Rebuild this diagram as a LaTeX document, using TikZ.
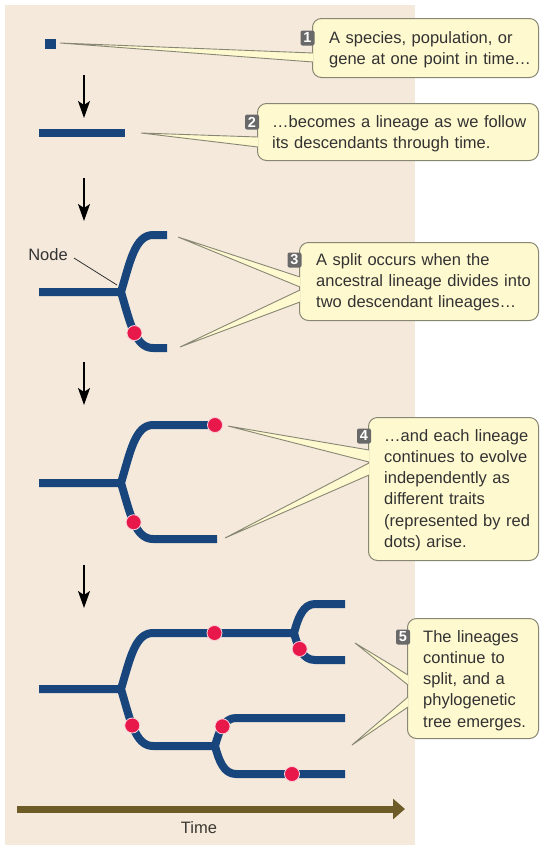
\documentclass[tikz,border=0pt]{standalone}
\usepackage{fontspec}
\setmainfont{Liberation Sans}
\usetikzlibrary{arrows.meta,calc}
\definecolor{treeblue}{RGB}{24,70,124}
\definecolor{dotred}{RGB}{232,24,74}
\definecolor{panelbg}{RGB}{245,233,220}
\definecolor{callfill}{RGB}{255,249,208}
\definecolor{callline}{RGB}{135,135,115}
\definecolor{badgegray}{RGB}{105,105,105}
\definecolor{txt}{RGB}{50,50,50}
\definecolor{timecol}{RGB}{110,92,40}
\newcommand\calloutfont{\fontsize{16.5}{21.3}\selectfont}
\newcommand\badgefont{\fontsize{14.5}{14.5}\selectfont\bfseries}
\newcommand\callptr[3]{\fill[callfill] #1 -- #2 -- #3 -- cycle; \draw[pointerline] #1 -- #2 -- #3;}
\begin{document}
\begin{tikzpicture}[x=1pt,y=-1pt,
  lineage/.style={draw=treeblue, line width=8pt, line cap=butt, line join=round},
  trait/.style={circle, fill=dotred, draw=white!80!dotred, line width=0.8pt, minimum size=15pt, inner sep=0pt},
  stagearrow/.style={draw=black, line width=1.5pt, -{Stealth[length=17pt,width=12pt,inset=4pt]}},
  callbox/.style={draw=callline, fill=callfill, line width=1pt, rounded corners=9pt, anchor=north west, inner sep=0pt},
  calltext/.style={anchor=base west, inner sep=0pt, text width=320pt, align=left, font=\calloutfont, text=txt},
  badge/.style={fill=badgegray, rounded corners=2pt, minimum width=14pt, minimum height=15pt, inner sep=0pt, text=white, font=\badgefont},
  pointerline/.style={draw=callline, line width=0.9pt, line join=miter},
  junction/.style={fill=treeblue}]
\useasboundingbox (0,0) rectangle (540,847);
\fill[white] (0,0) rectangle (540,847);
\fill[panelbg] (5,5) rectangle (415,845);

% ---------- stage arrows ----------
\coordinate (a1s) at (84,75);  \coordinate (a1e) at (84,118);
\coordinate (a2s) at (84,178); \coordinate (a2e) at (84,221);
\coordinate (a3s) at (84,362); \coordinate (a3e) at (84,405);
\coordinate (a4s) at (84,565); \coordinate (a4e) at (84,608);
\draw[stagearrow] (a1s) -- (a1e);
\draw[stagearrow] (a2s) -- (a2e);
\draw[stagearrow] (a3s) -- (a3e);
\draw[stagearrow] (a4s) -- (a4e);

% ---------- stage 1 and 2 ----------
\node[fill=treeblue, minimum width=11pt, minimum height=10pt, inner sep=0pt] (sq) at (50.5,44) {};
\coordinate (bar1) at (39,133); \coordinate (bar2) at (125,133);
\draw[lineage] (bar1) -- (bar2);

% ---------- stage 3 ----------
\coordinate (r3) at (39,292); \coordinate (n3) at (121,292);
\coordinate (u3) at (153,235); \coordinate (ue3) at (167,235);
\coordinate (l3) at (153,348); \coordinate (le3) at (167,348);
\draw[lineage] (r3) -- (n3) .. controls +(9,-30) and +(-18,0) .. (u3) -- (ue3);
\draw[lineage] (n3) .. controls +(9,30) and +(-18,0) .. (l3) -- (le3);
\fill[junction] (n3) circle[radius=4pt];
\path (n3) .. controls +(9,30) and +(-18,0) .. (l3) node[trait, pos=0.53] (d31) {};
\node[font=\calloutfont, text=txt, inner sep=0pt] (nodelbl) at (48,255) {Node};
\coordinate (nodeptr) at (117,285);
\draw[txt, line width=0.8pt] ($(nodelbl.east)+(6,3)$) -- (nodeptr);

% ---------- stage 4 ----------
\coordinate (r4) at (39,483); \coordinate (n4) at (121,483);
\coordinate (u4) at (153,425); \coordinate (ue4) at (215,425);
\coordinate (l4) at (153,539); \coordinate (le4) at (217,539);
\draw[lineage] (r4) -- (n4) .. controls +(9,-30) and +(-18,0) .. (u4) -- (ue4);
\draw[lineage] (n4) .. controls +(9,30) and +(-18,0) .. (l4) -- (le4);
\fill[junction] (n4) circle[radius=4pt];
\node[trait] (d41) at (ue4) {};
\path (n4) .. controls +(9,30) and +(-18,0) .. (l4) node[trait, pos=0.5] (d42) {};

% ---------- stage 5 ----------
\coordinate (r5) at (39,689); \coordinate (n5) at (121,689);
\coordinate (u5) at (153,633); \coordinate (s5a) at (294,633);
\coordinate (l5) at (153,746); \coordinate (s5b) at (215,746);
\coordinate (ua) at (315,604); \coordinate (uae) at (345,604);
\coordinate (la) at (315,660); \coordinate (lae) at (345,660);
\coordinate (ub) at (236,718); \coordinate (ube) at (345,718);
\coordinate (lb) at (236,774); \coordinate (lbe) at (345,774);
\draw[lineage] (r5) -- (n5) .. controls +(9,-30) and +(-18,0) .. (u5) -- (s5a)
   .. controls +(4,-15) and +(-12,0) .. (ua) -- (uae);
\draw[lineage] (s5a) .. controls +(4,15) and +(-12,0) .. (la) -- (lae);
\draw[lineage] (n5) .. controls +(9,30) and +(-18,0) .. (l5) -- (s5b)
   .. controls +(4,15) and +(-12,0) .. (lb) -- (lbe);
\draw[lineage] (s5b) .. controls +(4,-15) and +(-12,0) .. (ub) -- (ube);
\fill[junction] (n5) circle[radius=4pt];
\fill[junction] (s5a) circle[radius=4pt];
\fill[junction] (s5b) circle[radius=4pt];
\node[trait] (d51) at (214.5,633) {};
\path (s5a) .. controls +(4,15) and +(-12,0) .. (la) node[trait, pos=0.4] (d52) {};
\path (n5) .. controls +(9,30) and +(-18,0) .. (l5) node[trait, pos=0.45] (d53) {};
\path (s5b) .. controls +(4,-15) and +(-12,0) .. (ub) node[trait, pos=0.5] (d54) {};
\node[trait] (d55) at (292,774) {};

% ---------- callouts ----------
\node[callbox, minimum width=226pt, minimum height=59pt] (c1) at (312,18) {};
\node[callbox, minimum width=281pt, minimum height=57pt] (c2) at (257,103) {};
\node[callbox, minimum width=239pt, minimum height=78pt] (c3) at (299,242) {};
\node[callbox, minimum width=170pt, minimum height=143pt] (c4) at (368,417) {};
\node[callbox, minimum width=131pt, minimum height=120pt] (c5) at (407,618) {};

\coordinate (tip1) at (60,43);
\coordinate (tip2) at (141,133);
\coordinate (tip3a) at (178,237); \coordinate (tip3b) at (180,347);
\coordinate (tip4a) at (228,426); \coordinate (tip4b) at (225,538);
\coordinate (tip5a) at (355,643); \coordinate (tip5b) at (352,745);

\callptr{($(c1.north west)+(1,35)$)}{(tip1)}{($(c1.north west)+(1,44)$)}
\callptr{($(c2.north west)+(1,34)$)}{(tip2)}{($(c2.north west)+(1,44)$)}
\callptr{($(c3.north west)+(1,35)$)}{(tip3a)}{($(c3.north west)+(1,45)$)}
\callptr{($(c3.north west)+(1,48)$)}{(tip3b)}{($(c3.north west)+(1,60)$)}
\callptr{($(c4.north west)+(1,33)$)}{(tip4a)}{($(c4.north west)+(1,45)$)}
\callptr{($(c4.north west)+(1,46)$)}{(tip4b)}{($(c4.north west)+(1,58)$)}
\callptr{($(c5.north west)+(1,57)$)}{(tip5a)}{($(c5.north west)+(1,67)$)}
\callptr{($(c5.north west)+(1,79)$)}{(tip5b)}{($(c5.north west)+(1,89)$)}

\node[badge] (b1) at (307.5,38) {1};
\node[badge] (b2) at (252,122) {2};
\node[badge] (b3) at (294.5,260) {3};
\node[badge] (b4) at (364,436) {4};
\node[badge] (b5) at (403,637) {5};

\node[calltext] (t1) at (329,43) {A species, population, or\\gene at one point in time…};
\node[calltext] (t2) at (272,127) {…becomes a lineage as we follow\\its descendants through time.};
\node[calltext] (t3) at (316,265) {A split occurs when the\\ancestral lineage divides into\\two descendant lineages…};
\node[calltext] (t4) at (384,441) {…and each lineage\\continues to evolve\\independently as\\different traits\\(represented by red\\dots) arise.};
\node[calltext] (t5) at (423,642) {The lineages\\continue to\\split, and a\\phylogenetic\\tree emerges.};

% ---------- time axis ----------
\coordinate (ts) at (17,809); \coordinate (te) at (405,809);
\draw[timecol, line width=7pt, -{Triangle[length=12pt,width=20pt]}] (ts) -- (te);
\node[font=\calloutfont, text=txt!85!timecol, inner sep=0pt] (timelbl) at (199,828) {Time};
\end{tikzpicture}
\end{document}
